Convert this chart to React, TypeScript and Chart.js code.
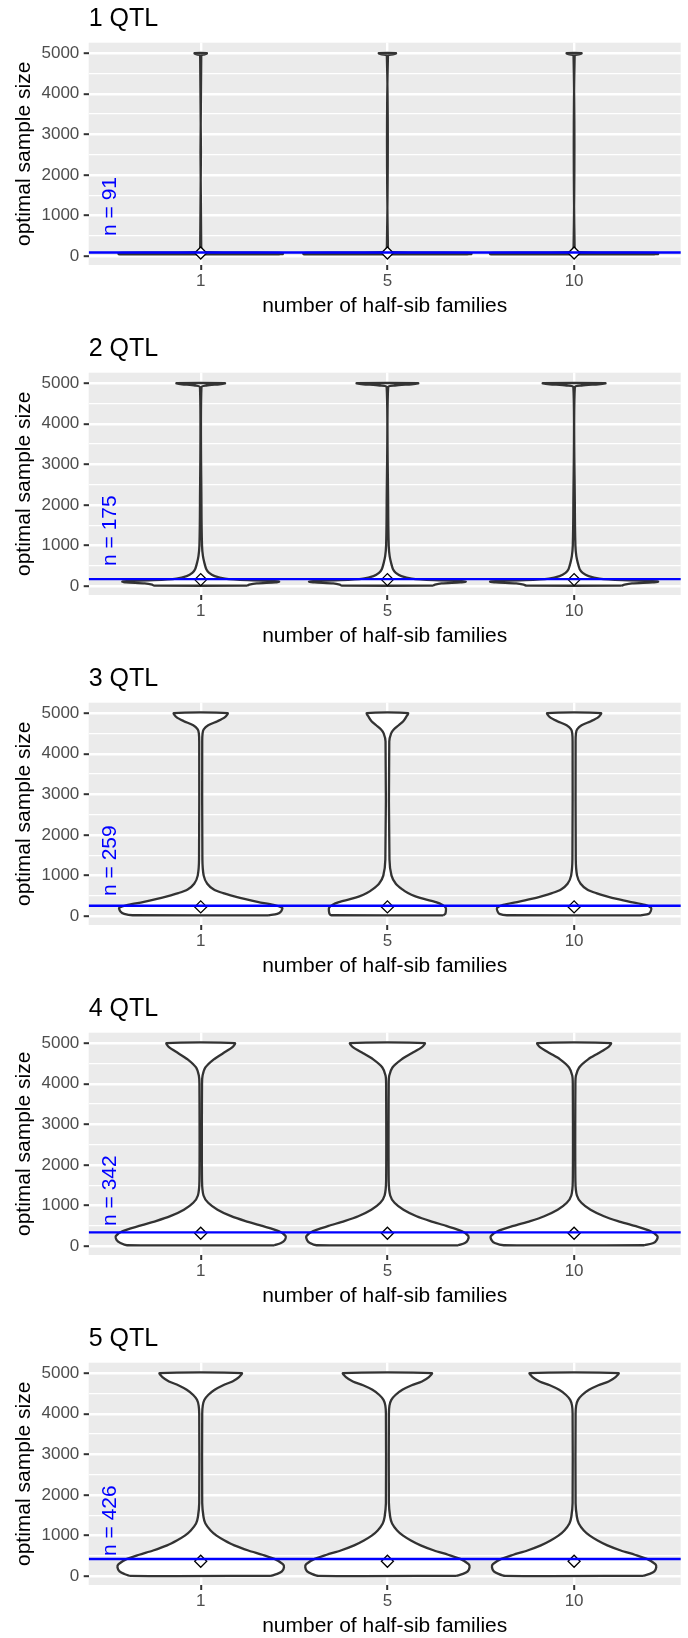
import React, { useEffect, useRef } from "react";
import { Chart, registerables } from "chart.js";

Chart.register(...registerables);

const FONT = "'Liberation Sans', Arial, Helvetica, sans-serif";

const categories = ["1", "5", "10"];
const categoryPositions = [1, 2, 3];
const panelTitles = ["1 QTL", "2 QTL", "3 QTL", "4 QTL", "5 QTL"];
const thresholdN = [91, 175, 259, 342, 426];
const yMajorTicks = [0, 1000, 2000, 3000, 4000, 5000];
const yMinorTicks = [500, 1500, 2500, 3500, 4500];
const xTitle = "number of half-sib families";
const yTitle = "optimal sample size";

// diamond markers (medians) per panel, per category
const medians = [
  [80, 80, 80],
  [164, 164, 164],
  [230, 230, 230],
  [320, 320, 320],
  [370, 370, 370],
];

// violin outlines: sample-size levels and half-widths (in category units)
const levels1 = [50, 55, 78, 84, 100, 160, 4940, 4965, 4990, 5000];
const widths1 = [
  [0.42, 0.44, 0.44, 0.42, 0.02, 0.003, 0.003, 0.02, 0.033, 0.033],
  [0.43, 0.45, 0.45, 0.43, 0.02, 0.003, 0.003, 0.03, 0.046, 0.046],
  [0.43, 0.45, 0.45, 0.43, 0.02, 0.003, 0.003, 0.025, 0.04, 0.04],
];

const levels2 = [15, 40, 70, 95, 115, 130, 150, 190, 250, 330, 420, 570, 740, 1000, 2000, 4900, 4940, 4970, 4990, 5000];
const widths2 = [
  [0.25, 0.26, 0.3, 0.4, 0.42, 0.38, 0.25, 0.13, 0.075, 0.045, 0.03, 0.02, 0.012, 0.007, 0.004, 0.004, 0.03, 0.1, 0.13, 0.13],
  [0.245, 0.255, 0.29, 0.39, 0.42, 0.38, 0.25, 0.13, 0.075, 0.045, 0.03, 0.02, 0.012, 0.007, 0.004, 0.004, 0.04, 0.13, 0.165, 0.165],
  [0.255, 0.27, 0.31, 0.42, 0.45, 0.4, 0.26, 0.135, 0.078, 0.046, 0.03, 0.02, 0.012, 0.007, 0.004, 0.004, 0.04, 0.13, 0.168, 0.168],
];

const levels3 = [25, 60, 120, 205, 280, 350, 420, 490, 570, 660, 800, 1000, 1400, 4300, 4500, 4600, 4700, 4800, 4900, 5000];
const widths3 = [
  [0.365, 0.41, 0.43, 0.437, 0.39, 0.31, 0.24, 0.18, 0.12, 0.07, 0.035, 0.016, 0.009, 0.008, 0.01, 0.016, 0.04, 0.09, 0.13, 0.144],
  [0.3, 0.31, 0.313, 0.313, 0.295, 0.26, 0.2, 0.15, 0.11, 0.08, 0.045, 0.022, 0.011, 0.01, 0.02, 0.035, 0.06, 0.085, 0.1, 0.11],
  [0.36, 0.4, 0.41, 0.413, 0.38, 0.305, 0.235, 0.175, 0.118, 0.07, 0.035, 0.016, 0.009, 0.008, 0.01, 0.016, 0.04, 0.09, 0.13, 0.144],
];

const levels4 = [25, 80, 150, 250, 370, 500, 620, 740, 900, 1070, 1250, 1600, 4000, 4200, 4400, 4600, 4750, 4900, 5000];
const widths4 = [
  [0.395, 0.43, 0.45, 0.455, 0.42, 0.33, 0.24, 0.163, 0.09, 0.04, 0.015, 0.007, 0.007, 0.01, 0.025, 0.07, 0.12, 0.17, 0.183],
  [0.38, 0.415, 0.43, 0.434, 0.4, 0.315, 0.23, 0.156, 0.086, 0.038, 0.015, 0.007, 0.007, 0.01, 0.027, 0.076, 0.13, 0.185, 0.2],
  [0.377, 0.425, 0.442, 0.446, 0.41, 0.325, 0.235, 0.16, 0.088, 0.039, 0.015, 0.007, 0.007, 0.01, 0.027, 0.075, 0.13, 0.183, 0.197],
];

const levels5 = [10, 58, 120, 222, 300, 428, 530, 634, 760, 881, 1000, 1128, 1300, 1458, 1800, 4000, 4200, 4341, 4460, 4588, 4700, 4794, 4900, 5000];
const widths5 = [
  [0.376, 0.41, 0.435, 0.446, 0.44, 0.395, 0.33, 0.255, 0.18, 0.128, 0.085, 0.053, 0.025, 0.015, 0.008, 0.008, 0.011, 0.02, 0.04, 0.075, 0.12, 0.17, 0.205, 0.22],
  [0.37, 0.405, 0.43, 0.44, 0.435, 0.39, 0.325, 0.25, 0.178, 0.126, 0.084, 0.052, 0.025, 0.015, 0.008, 0.008, 0.011, 0.021, 0.043, 0.08, 0.13, 0.185, 0.222, 0.238],
  [0.37, 0.405, 0.43, 0.44, 0.435, 0.39, 0.325, 0.25, 0.178, 0.126, 0.084, 0.052, 0.025, 0.015, 0.008, 0.008, 0.011, 0.021, 0.043, 0.08, 0.13, 0.185, 0.222, 0.238],
];

const panelLevels = [levels1, levels2, levels3, levels4, levels5];
const panelWidths = [widths1, widths2, widths3, widths4, widths5];

const PANEL_H = 330;

function violinPoints(center: number, levels: number[], widths: number[]) {
  const pts: { x: number; y: number }[] = [];
  for (let i = 0; i < levels.length; i++) pts.push({ x: center + widths[i], y: levels[i] });
  for (let i = levels.length - 1; i >= 0; i--) pts.push({ x: center - widths[i], y: levels[i] });
  pts.push({ x: center + widths[0], y: levels[0] });
  return pts;
}

const bgPlugin = {
  id: "panelBg",
  beforeDraw(chart: any) {
    const { ctx, chartArea, width, height } = chart;
    ctx.save();
    ctx.fillStyle = "#FFFFFF";
    ctx.fillRect(0, 0, width, height);
    ctx.fillStyle = "#EBEBEB";
    ctx.fillRect(chartArea.left, chartArea.top, chartArea.right - chartArea.left, chartArea.bottom - chartArea.top);
    ctx.restore();
  },
};

function makeLabelPlugin(idx: number) {
  return {
    id: "nLabel",
    afterDatasetsDraw(chart: any) {
      const { ctx } = chart;
      const x = chart.scales.x.getPixelForValue(0.5) + 2.4;
      const y = chart.scales.y.getPixelForValue(500);
      ctx.save();
      ctx.translate(x, y);
      ctx.rotate(-Math.PI / 2);
      ctx.font = `21px ${FONT}`;
      ctx.fillStyle = "#0000FF";
      ctx.textAlign = "left";
      ctx.textBaseline = "middle";
      ctx.fillText(`n = ${thresholdN[idx]}`, 0, 0);
      ctx.restore();
    },
  };
}

function buildConfig(idx: number): any {
  const datasets: any[] = [];
  datasets.push({
    type: "line",
    data: [
      { x: 0.4, y: thresholdN[idx] },
      { x: 3.6, y: thresholdN[idx] },
    ],
    borderColor: "#0000FF",
    borderWidth: 2.4,
    pointRadius: 0,
    fill: false,
    order: 0,
  });
  datasets.push({
    type: "line",
    data: categoryPositions.map((c, k) => ({ x: c, y: medians[idx][k] })),
    showLine: false,
    pointStyle: "rectRot",
    pointRadius: 6,
    pointBackgroundColor: "#FFFFFF",
    pointBorderColor: "#000000",
    pointBorderWidth: 1.3,
    order: 1,
  });
  categoryPositions.forEach((c, k) => {
    datasets.push({
      type: "line",
      data: violinPoints(c, panelLevels[idx], panelWidths[idx][k]),
      borderColor: "#333333",
      borderWidth: 2.3,
      backgroundColor: "#FFFFFF",
      fill: "shape",
      pointRadius: 0,
      tension: 0.25,
      order: 2,
    });
  });

  const allY = [...yMajorTicks, ...yMinorTicks].sort((a, b) => a - b);

  return {
    type: "line",
    data: { datasets },
    options: {
      animation: false,
      responsive: false,
      devicePixelRatio: 1,
      events: [],
      layout: { padding: 0 },
      plugins: {
        legend: { display: false },
        tooltip: { enabled: false },
        title: {
          display: true,
          text: panelTitles[idx],
          align: "start",
          fullSize: false,
          color: "#000000",
          font: { size: 25, weight: "normal", family: FONT },
          padding: { top: 3.8, bottom: 8.9 },
        },
      },
      scales: {
        x: {
          type: "linear",
          min: 0.4,
          max: 3.571,
          afterBuildTicks: (s: any) => {
            s.ticks = categoryPositions.map((v) => ({ value: v }));
          },
          afterFit: (s: any) => {
            s.height = 65;
          },
          ticks: {
            autoSkip: false,
            maxRotation: 0,
            padding: 1,
            color: "#4D4D4D",
            font: { size: 17, family: FONT },
            callback: (v: number) => {
              const i = categoryPositions.indexOf(v);
              return i >= 0 ? categories[i] : "";
            },
          },
          grid: {
            color: "#FFFFFF",
            lineWidth: 2.4,
            drawTicks: true,
            tickLength: 5,
            tickColor: "#333333",
            tickWidth: 2,
          },
          border: { display: false },
          title: {
            display: true,
            text: xTitle,
            color: "#000000",
            font: { size: 21, family: FONT },
            padding: { top: 0, bottom: 11.4 },
          },
        },
        y: {
          type: "linear",
          min: -215,
          max: 5255,
          afterBuildTicks: (s: any) => {
            s.ticks = allY.map((v) => ({ value: v }));
          },
          afterFit: (s: any) => {
            s.width = 88.7;
          },
          ticks: {
            autoSkip: false,
            padding: 4.4,
            color: "#4D4D4D",
            font: { size: 17, family: FONT },
            callback: (v: number) => (yMajorTicks.includes(v) ? String(v) : ""),
          },
          grid: {
            color: "#FFFFFF",
            lineWidth: (c: any) => (c.tick && yMajorTicks.includes(c.tick.value) ? 2.4 : 1.2),
            drawTicks: true,
            tickLength: 5,
            tickColor: (c: any) => (c.tick && yMajorTicks.includes(c.tick.value) ? "#333333" : "rgba(0,0,0,0)"),
            tickWidth: 2,
          },
          border: { display: false },
          title: {
            display: true,
            text: yTitle,
            color: "#000000",
            font: { size: 21, family: FONT },
            padding: { top: 11.6, bottom: 0 },
          },
        },
      },
    },
    plugins: [bgPlugin, makeLabelPlugin(idx)],
  };
}

function Panel({ idx }: { idx: number }) {
  const ref = useRef<HTMLCanvasElement>(null);
  useEffect(() => {
    if (!ref.current) return;
    const chart = new Chart(ref.current, buildConfig(idx));
    return () => chart.destroy();
  }, [idx]);
  return (
    <canvas
      ref={ref}
      width={688}
      height={PANEL_H}
      style={{ position: "absolute", left: 0, top: idx * PANEL_H, width: 688, height: PANEL_H, display: "block" }}
    />
  );
}

export default function App() {
  Chart.defaults.font.family = FONT;
  return (
    <div
      style={{
        position: "absolute",
        left: 0,
        top: 0,
        width: 688,
        height: 1638,
        overflow: "hidden",
        background: "#FFFFFF",
      }}
    >
      {panelTitles.map((_, i) => (
        <Panel key={i} idx={i} />
      ))}
    </div>
  );
}
